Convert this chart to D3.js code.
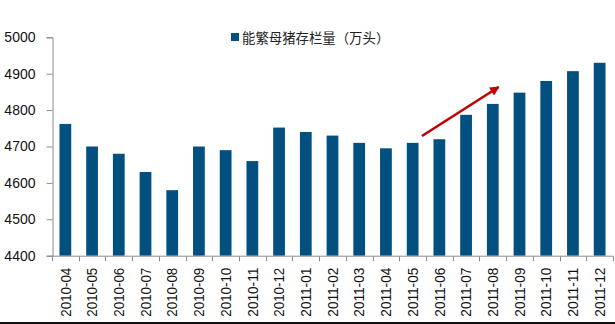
<!DOCTYPE html>
<html>
<head>
<meta charset="utf-8">
<script src="https://cdn.jsdelivr.net/npm/d3@7/dist/d3.min.js"></script>
<style>
  html, body { margin: 0; padding: 0; background: #fff; }
  svg { display: block; }
</style>
</head>
<body>
<svg id="chart" width="615" height="324"></svg>
<script>
// Monthly breeding-sow inventory (10k head)
const months = [
  "2010-04", "2010-05", "2010-06", "2010-07", "2010-08", "2010-09", "2010-10",
  "2010-11", "2010-12", "2011-01", "2011-02", "2011-03", "2011-04", "2011-05",
  "2011-06", "2011-07", "2011-08", "2011-09", "2011-10", "2011-11", "2011-12"
];
const sowStock = [
  4762, 4700, 4680, 4630, 4580, 4700, 4690,
  4660, 4752, 4740, 4730, 4710, 4695, 4710,
  4720, 4787, 4817, 4848, 4880, 4907, 4930
];
const yTicks = [4400, 4500, 4600, 4700, 4800, 4900, 5000];
const seriesName = "能繁母猪存栏量（万头）";

(function drawChart() {
  const svg = d3.select("#chart");
  const W = 615;
  const plotLeft = 52, plotRight = 613, plotTop = 37.3, plotBottom = 255.7;
  const font = "'Liberation Sans', Arial, sans-serif";
  const barColor = "#02507F";
  const axisColor = "#8C8C8C";

  const x = d3.scaleBand().domain(months).range([plotLeft, plotRight]).paddingInner(0.56).paddingOuter(0.28);
  const xTick = d3.scaleBand().domain(months).range([plotLeft, plotRight]);
  const y = d3.scaleLinear().domain([4400, 5000]).range([plotBottom, plotTop]);

  // bars
  svg.append("g").selectAll("rect")
    .data(months)
    .join("rect")
    .attr("x", (d) => x(d))
    .attr("width", x.bandwidth())
    .attr("y", (d, i) => y(sowStock[i]))
    .attr("height", (d, i) => y(4400) - y(sowStock[i]))
    .attr("fill", barColor);

  // y axis
  const yAxis = svg.append("g")
    .attr("transform", `translate(${plotLeft + 0.5},0)`)
    .call(d3.axisLeft(y).tickValues(yTicks).tickSize(6).tickPadding(11).tickFormat(d3.format("d")));
  yAxis.select(".domain").attr("stroke", axisColor);
  yAxis.selectAll(".tick line").attr("stroke", axisColor);
  yAxis.selectAll(".tick text")
    .attr("fill", "#111")
    .style("font-family", font)
    .style("font-size", "14px");

  // x axis: boundary ticks between categories
  const xg = svg.append("g").attr("transform", `translate(0,${plotBottom + 0.5})`);
  xg.append("line")
    .attr("x1", plotLeft).attr("x2", plotRight)
    .attr("stroke", axisColor);
  const edges = months.map((m) => xTick(m)).concat([plotRight]);
  xg.selectAll("line.tk")
    .data(edges)
    .join("line")
    .attr("class", "tk")
    .attr("x1", (d) => Math.round(d) + 0.5).attr("x2", (d) => Math.round(d) + 0.5)
    .attr("y1", 0).attr("y2", 5)
    .attr("stroke", axisColor);

  // rotated month labels (condensed along the reading direction)
  svg.append("g").selectAll("text")
    .data(months)
    .join("text")
    .attr("transform", (d) => `translate(${xTick(d) + xTick.bandwidth() / 2 + 5.2},${plotBottom + 12}) rotate(-90)`)
    .attr("text-anchor", "end")
    .attr("fill", "#111")
    .attr("textLength", 49)
    .attr("lengthAdjust", "spacingAndGlyphs")
    .style("font-family", font)
    .style("font-size", "14.8px")
    .text((d) => d);

  // legend
  const lg = svg.append("g");
  lg.append("rect")
    .attr("x", 231).attr("y", 33).attr("width", 8).attr("height", 8)
    .attr("fill", barColor);
  lg.append("text")
    .attr("x", 242).attr("y", 43)
    .attr("fill", "#222")
    .style("font-family", "'Noto Sans CJK SC', sans-serif")
    .style("font-size", "13.4px")
    .text(seriesName);

  // trend arrow from 2011-05 toward 2011-08
  const defs = svg.append("defs");
  defs.append("marker")
    .attr("id", "arrowHead")
    .attr("viewBox", "0 0 10 10")
    .attr("refX", 9).attr("refY", 5)
    .attr("markerWidth", 4.2).attr("markerHeight", 3.6)
    .attr("markerUnits", "strokeWidth")
    .attr("orient", "auto")
    .append("path")
    .attr("d", "M0,0 L10,5 L0,10 Z")
    .attr("fill", "#C00000");
  const ax0 = xTick("2011-05") + xTick.bandwidth() * 0.85;
  const ax1 = xTick("2011-08") + xTick.bandwidth() * 0.72;
  svg.append("line")
    .attr("x1", ax0).attr("y1", 136)
    .attr("x2", ax1).attr("y2", 87)
    .attr("stroke", "#C00000")
    .attr("stroke-width", 2.6)
    .attr("marker-end", "url(#arrowHead)");

  // bottom frame edge
  svg.append("rect")
    .attr("x", 0).attr("y", 322).attr("width", W).attr("height", 2)
    .attr("fill", "#111");
})();
</script>
</body>
</html>
